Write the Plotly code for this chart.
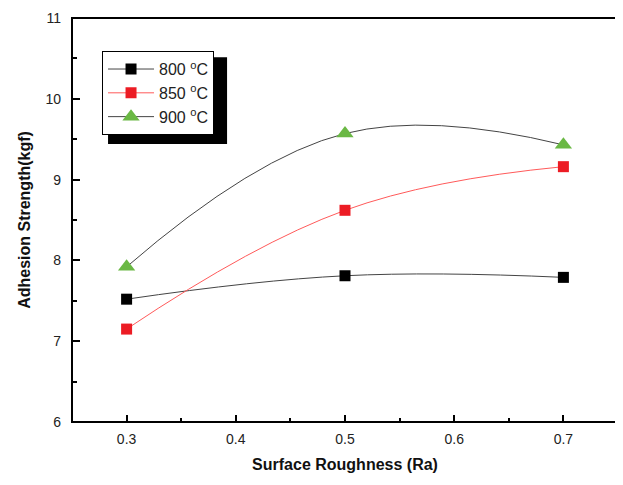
import plotly.graph_objects as go

roughness = [0.3, 0.5, 0.7]
s800 = [7.52, 7.81, 7.79]
s850 = [7.15, 8.62, 9.16]
s900 = [7.92, 9.57, 9.43]
series_names = ["800 <sup>o</sup>C", "850 <sup>o</sup>C", "900 <sup>o</sup>C"]

FONT = "Liberation Sans, Arial, sans-serif"
X_RANGE = [0.25, 0.75]
Y_RANGE = [6, 11]

fig = go.Figure()
fig.add_trace(go.Scatter(
    x=roughness, y=s800, name=series_names[0], mode="lines+markers",
    line=dict(color="#444444", width=1, shape="spline", smoothing=1.2),
    marker=dict(symbol="square", size=11, color="#000000"),
))
fig.add_trace(go.Scatter(
    x=roughness, y=s850, name=series_names[1], mode="lines+markers",
    line=dict(color="#FF5A5A", width=1, shape="spline", smoothing=1.2),
    marker=dict(symbol="square", size=11, color="#EC1C24"),
))
fig.add_trace(go.Scatter(
    x=roughness, y=s900, name=series_names[2], mode="lines+markers",
    line=dict(color="#444444", width=1, shape="spline", smoothing=1.2),
    marker=dict(symbol="triangle-up", size=15, color="#6AB844"),
))
# invisible trace to activate the tick-only overlay axes
fig.add_trace(go.Scatter(x=[], y=[], xaxis="x2", yaxis="y2", showlegend=False, hoverinfo="skip"))

# plot frame
fig.add_shape(type="rect", xref="paper", yref="paper", x0=0, x1=1, y0=0, y1=1,
              line=dict(color="black", width=2), fillcolor="rgba(0,0,0,0)", layer="above")
# legend drop shadow
fig.add_shape(type="rect", xref="paper", yref="paper",
              x0=0.066, x1=0.284, y0=0.688, y1=0.903,
              fillcolor="black", line=dict(width=0), layer="above")

fig.update_layout(
    width=615, height=477,
    margin=dict(l=64, r=5, t=10, b=63),
    paper_bgcolor="white", plot_bgcolor="white",
    font=dict(family=FONT, color="#222222"),
    showlegend=True,
    legend=dict(
        x=0.055, y=0.918, xanchor="left", yanchor="top",
        bgcolor="white", bordercolor="black", borderwidth=1,
        font=dict(family=FONT, size=16, color="#222222"),
        tracegroupgap=0, itemwidth=46,
    ),
    xaxis=dict(
        range=X_RANGE, tickmode="linear", tick0=0.3, dtick=0.1, tickformat=".1f",
        showline=False, ticks="", showgrid=False, zeroline=False, automargin=False,
        tickfont=dict(family=FONT, size=14, color="#222222"),
        ticklabelstandoff=7,
        title=dict(text="<b>Surface Roughness (Ra)</b>", font=dict(family=FONT, size=16, color="#111111"), standoff=12),
    ),
    yaxis=dict(
        range=Y_RANGE, tickmode="linear", tick0=6, dtick=1,
        showline=False, ticks="", showgrid=False, zeroline=False, automargin=False,
        tickfont=dict(family=FONT, size=14, color="#222222"),
        ticklabelstandoff=10,
        title=dict(text="<b>Adhesion Strength(kgf)</b>", font=dict(family=FONT, size=16, color="#111111"), standoff=10),
    ),
    # tick-only axes pointing into the plot from the bottom and left edges
    xaxis2=dict(
        overlaying="x", side="top", anchor="free", position=0, range=X_RANGE,
        tickmode="linear", tick0=0.3, dtick=0.1, showticklabels=False,
        ticks="outside", ticklen=7, tickwidth=2, tickcolor="black",
        minor=dict(ticks="outside", ticklen=4, tickwidth=2, tickcolor="black", dtick=0.05, tick0=0.25),
        showline=False, showgrid=False, zeroline=False, automargin=False,
    ),
    yaxis2=dict(
        overlaying="y", side="right", anchor="free", position=0, range=Y_RANGE,
        tickmode="linear", tick0=6, dtick=1, showticklabels=False,
        ticks="outside", ticklen=7, tickwidth=2, tickcolor="black",
        minor=dict(ticks="outside", ticklen=4, tickwidth=2, tickcolor="black", dtick=0.5, tick0=6),
        showline=False, showgrid=False, zeroline=False, automargin=False,
    ),
)

fig.write_html("out.html")
